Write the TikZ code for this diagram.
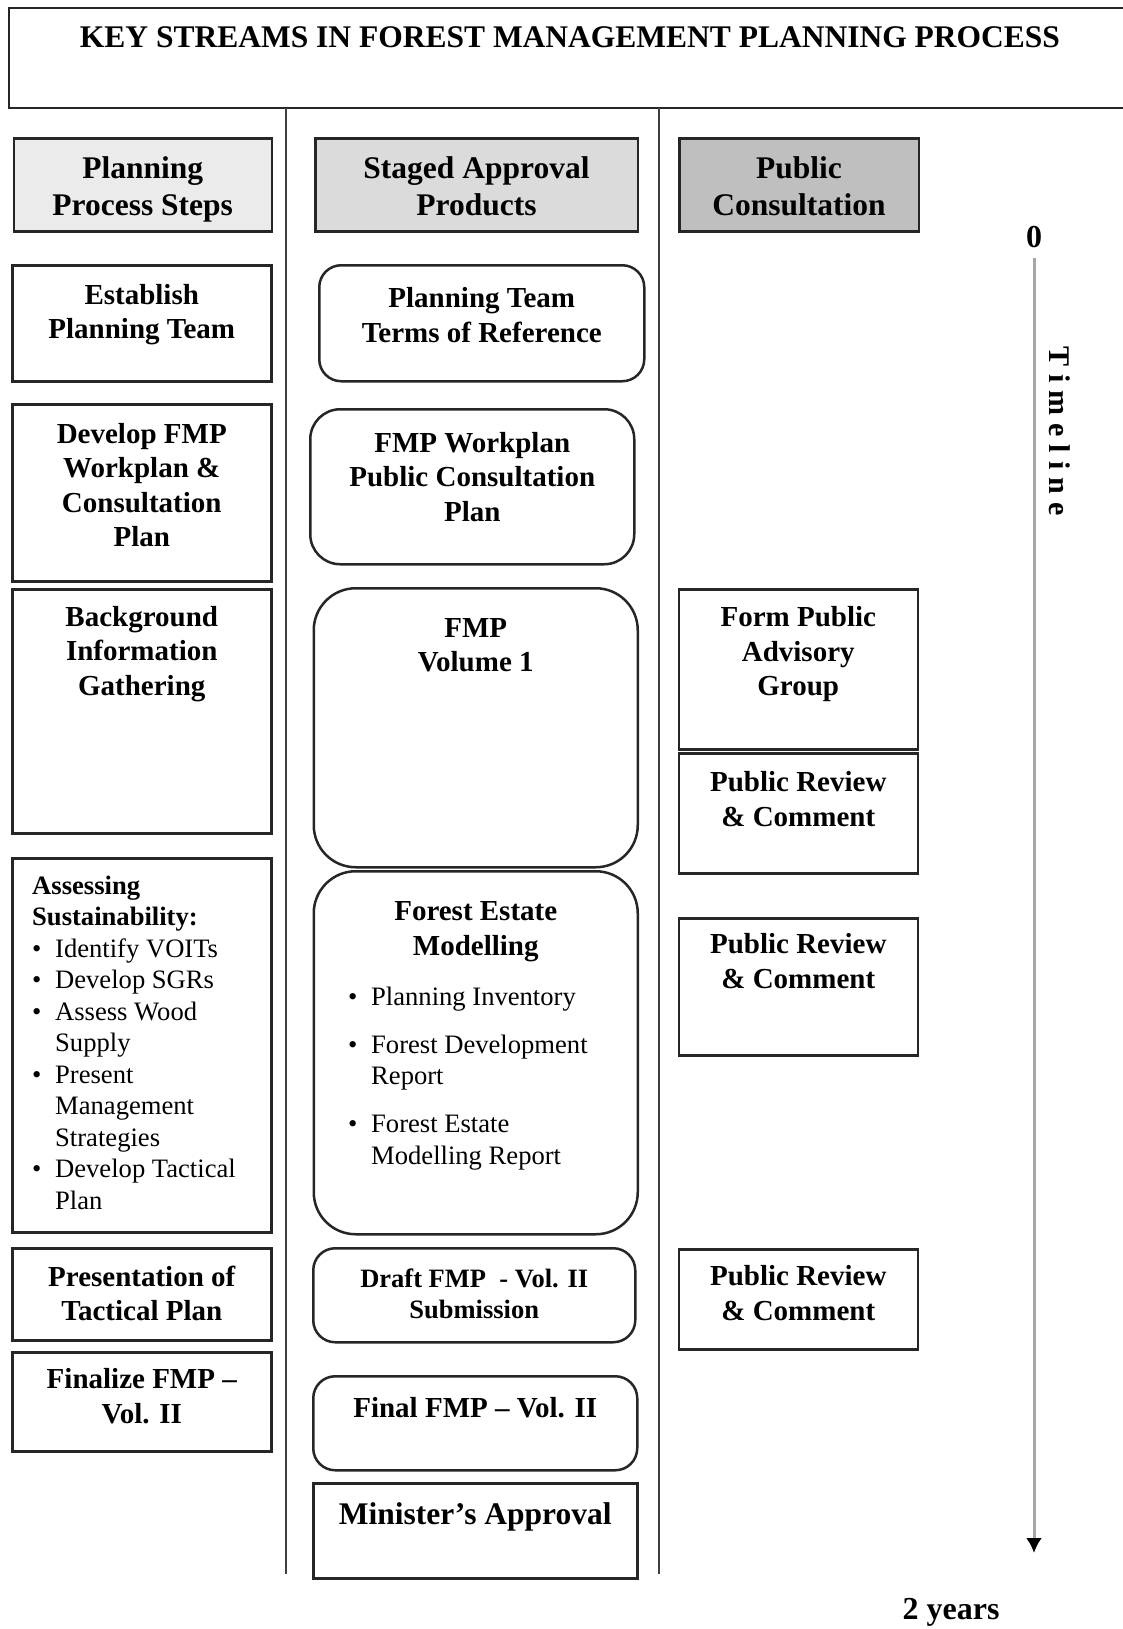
\documentclass[tikz,border=0pt]{standalone}
\usepackage{fontspec}
\setmainfont{Liberation Serif}
\usepackage{tikz}
\usetikzlibrary{shapes,arrows.meta}
\usetikzlibrary{positioning}

\newcommand{\ttlfont}{\bfseries\fontsize{31.5}{36}\selectfont}
\newcommand{\hdfont}{\bfseries\fontsize{31.5}{36.5}\selectfont}
\newcommand{\bxfont}{\bfseries\fontsize{29}{34.5}\selectfont}
\newcommand{\smbxfont}{\bfseries\fontsize{26.5}{31}\selectfont}
\newcommand{\lstfont}{\fontsize{26.6}{31.5}\selectfont}
\newcommand{\lstitem}{\makebox[23pt][l]{\textbullet}}
\newcommand{\lstcont}{\hspace*{23pt}}

\begin{document}
\begin{tikzpicture}[x=1pt,y=-1pt,
  stepbox/.style={draw=black!85,line width=2.5pt,rectangle,inner sep=0pt},
  prodbox/.style={stepbox,rounded corners=#1},prodbox/.default=22pt,
  headbox/.style={stepbox,minimum height=93pt,anchor=north west},
  txt/.style={align=center,inner sep=0pt,font=\bxfont},
  lst/.style={align=left,inner sep=0pt,font=\lstfont},
  sepline/.style={draw=black!75,line width=2pt}]
\path[use as bounding box] (0,0) rectangle (1122,1629);
% title
\path node[stepbox,minimum width=1122pt,minimum height=100pt] (title) at (570,58) {};
\path node[txt,font=\ttlfont,below=20pt of title.north] (title-t) {KEY STREAMS IN FOREST MANAGEMENT PLANNING PROCESS};
\draw[sepline] (286,108) -- (286,1574);
\draw[sepline] (659,108) -- (659,1574);
% headers
\path node[headbox,fill=black!8,minimum width=258pt] (h-steps) at (12.5,137.5) {};
\path node[txt,font=\hdfont,below=19pt of h-steps.north] (h-steps-t) {Planning\\Process Steps};
\path node[headbox,fill=black!14,minimum width=322.5pt] (h-prod) at (314,137.5) {};
\path node[txt,font=\hdfont,below=19pt of h-prod.north] (h-prod-t) {Staged Approval\\Products};
\path node[headbox,fill=black!25,minimum width=239.5pt] (h-pub) at (678,137.5) {};
\path node[txt,font=\hdfont,below=19pt of h-pub.north] (h-pub-t) {Public\\Consultation};
% planning process steps
\path node[stepbox,minimum width=259pt,minimum height=116pt,anchor=north west] (est) at (11,264) {};
\path node[txt,below=20pt of est.north] (est-t) {Establish\\Planning Team};
\path node[stepbox,minimum width=259pt,minimum height=177pt,anchor=north west] (dev) at (11,403) {};
\path node[txt,below=20pt of dev.north] (dev-t) {Develop FMP\\Workplan \&\\Consultation\\Plan};
\path node[stepbox,minimum width=259pt,minimum height=244pt,anchor=north west] (bg) at (11,588) {};
\path node[txt,below=18pt of bg.north] (bg-t) {Background\\Information\\Gathering};
\path node[stepbox,minimum width=259pt,minimum height=374pt,anchor=north west] (ass) at (11,857) {};
\path node[lst,below right=18.5pt and 21pt of ass.north west] (ass-t) {{\bfseries Assessing}\\
  {\bfseries Sustainability:}\\
  \lstitem Identify VOITs\\
  \lstitem Develop SGRs\\
  \lstitem Assess Wood\\
  \lstcont Supply\\
  \lstitem Present\\
  \lstcont Management\\
  \lstcont Strategies\\
  \lstitem Develop Tactical\\
  \lstcont Plan};
\path node[stepbox,minimum width=259pt,minimum height=92pt,anchor=north west] (pres) at (11,1247) {};
\path node[txt,below=18.5pt of pres.north] (pres-t) {Presentation of\\Tactical Plan};
\path node[stepbox,minimum width=259pt,minimum height=99pt,anchor=north west] (fin) at (11,1351) {};
\path node[txt,below=17.5pt of fin.north] (fin-t) {Finalize FMP --\\Vol. II};
% staged approval products
\path node[prodbox,minimum width=325pt,minimum height=116pt,anchor=north west] (tor) at (318,264) {};
\path node[txt,below=23.5pt of tor.north] (tor-t) {Planning Team\\Terms of Reference};
\path node[prodbox=30pt,minimum width=324pt,minimum height=155pt,anchor=north west] (wp) at (309,408) {};
\path node[txt,below=24pt of wp.north] (wp-t) {FMP Workplan\\Public Consultation\\Plan};
\path node[prodbox=42pt,minimum width=324pt,minimum height=279pt,anchor=north west] (vol) at (312.5,587) {};
\path node[txt,below=31pt of vol.north] (vol-t) {FMP\\Volume 1};
\path node[prodbox=42pt,minimum width=324pt,minimum height=363pt,anchor=north west] (fem) at (312.5,870) {};
\path node[txt,below=31.5pt of fem.north] (fem-t) {Forest Estate\\Modelling};
\path node[lst,below right=116.5pt and 35.5pt of fem.north west] (fem-l) {\lstitem Planning Inventory\\[16.5pt]
  \lstitem Forest Development\\
  \lstcont Report\\[16.5pt]
  \lstitem Forest Estate\\
  \lstcont Modelling Report};
\path node[prodbox,minimum width=322pt,minimum height=94pt,anchor=north west] (draft) at (312,1247) {};
\path node[txt,font=\smbxfont,below=21.5pt of draft.north] (draft-t) {Draft FMP~ - Vol. II\\Submission};
\path node[prodbox,minimum width=324pt,minimum height=94pt,anchor=north west] (final) at (312,1375) {};
\path node[txt,below=22.5pt of final.north] (final-t) {Final FMP -- Vol. II};
\path node[stepbox,minimum width=324pt,minimum height=95pt,anchor=north west] (mina) at (312,1482) {};
\path node[txt,font=\ttlfont,below=20.5pt of mina.north] (mina-t) {Minister's Approval};
% public consultation
\path node[stepbox,minimum width=239pt,minimum height=160pt,anchor=north west] (form) at (677.5,588) {};
\path node[txt,below=18.5pt of form.north] (form-t) {Form Public\\Advisory\\Group};
\path node[stepbox,minimum width=239pt,minimum height=120pt,anchor=north west] (rev1) at (677.5,752) {};
\path node[txt,below=19.5pt of rev1.north] (rev1-t) {Public Review\\\& Comment};
\path node[stepbox,minimum width=239pt,minimum height=137pt,anchor=north west] (rev2) at (677.5,917) {};
\path node[txt,below=16.5pt of rev2.north] (rev2-t) {Public Review\\\& Comment};
\path node[stepbox,minimum width=239pt,minimum height=100pt,anchor=north west] (rev3) at (677.5,1248) {};
\path node[txt,below=17.5pt of rev3.north] (rev3-t) {Public Review\\\& Comment};
% timeline
\path node[inner sep=0pt,font=\bfseries\fontsize{32}{36}\selectfont] (zero) at (1034,237) {0};
\coordinate (tend) at (1034,1553);
\draw[-{Latex[length=15pt,width=16pt,color=black]},draw=black!35,line width=3pt,shorten <=10pt] (zero) -- (tend);
\path node[rotate=-90,inner sep=0pt,font=\bfseries\fontsize{30}{34}\selectfont] (tl) at (1060,431) {\spaceskip=8pt T i m e l i n e};
\path node[anchor=base,inner sep=0pt,font=\bfseries\fontsize{32}{36}\selectfont] (yrs) at (951,1619) {2 years};
\end{tikzpicture}
\end{document}
